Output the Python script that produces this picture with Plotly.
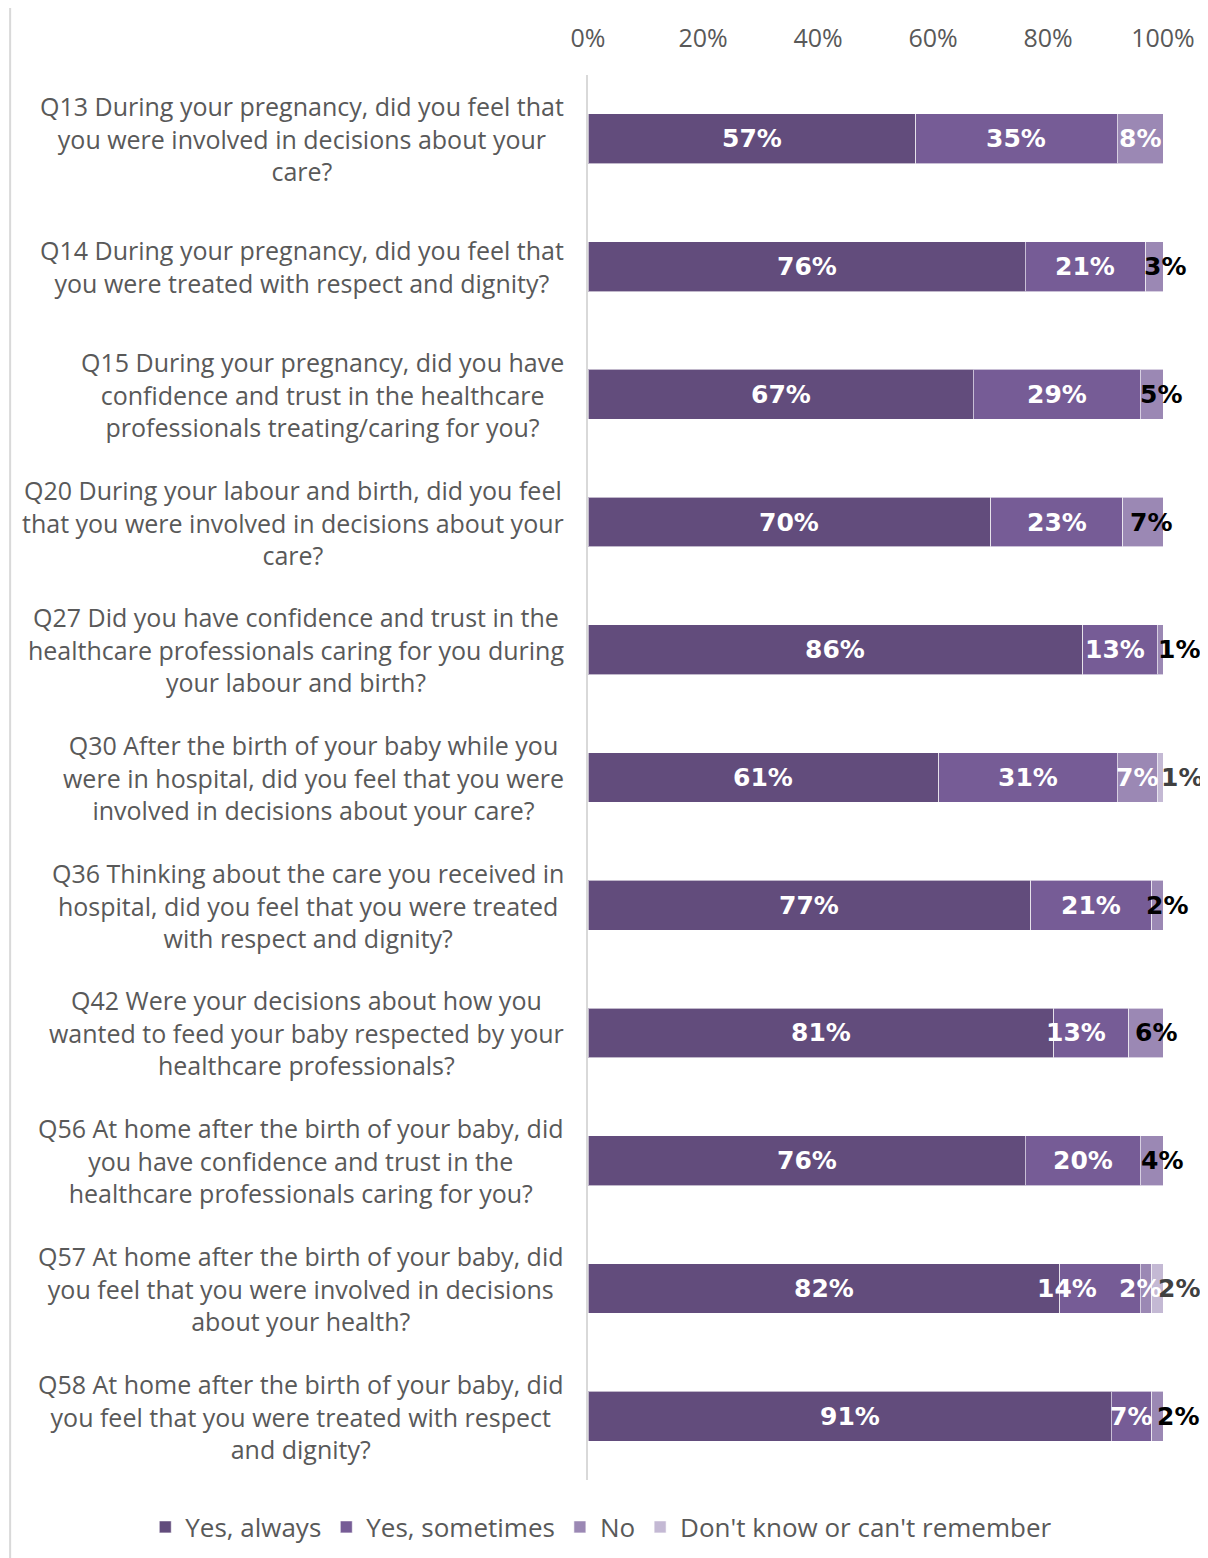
import plotly.graph_objects as go

questions = ['Q13', 'Q14', 'Q15', 'Q20', 'Q27', 'Q30', 'Q36', 'Q42', 'Q56', 'Q57', 'Q58']
labels = [
    'Q13 During your pregnancy, did you feel that<br>you were involved in decisions about your<br>care?',
    'Q14 During your pregnancy, did you feel that<br>you were treated with respect and dignity?',
    'Q15 During your pregnancy, did you have<br>confidence and trust in the healthcare<br>professionals treating/caring for you?',
    'Q20 During your labour and birth, did you feel<br>that you were involved in decisions about your<br>care?',
    'Q27 Did you have confidence and trust in the<br>healthcare professionals caring for you during<br>your labour and birth?',
    'Q30 After the birth of your baby while you<br>were in hospital, did you feel that you were<br>involved in decisions about your care?',
    'Q36 Thinking about the care you received in<br>hospital, did you feel that you were treated<br>with respect and dignity?',
    'Q42 Were your decisions about how you<br>wanted to feed your baby respected by your<br>healthcare professionals?',
    'Q56 At home after the birth of your baby, did<br>you have confidence and trust in the<br>healthcare professionals caring for you?',
    'Q57 At home after the birth of your baby, did<br>you feel that you were involved in decisions<br>about your health?',
    'Q58 At home after the birth of your baby, did<br>you feel that you were treated with respect<br>and dignity?',
]

yes_always = [57, 76, 67, 70, 86, 61, 77, 81, 76, 82, 91]
yes_sometimes = [35, 21, 29, 23, 13, 31, 21, 13, 20, 14, 7]
no = [8, 3, 5, 7, 1, 7, 2, 6, 4, 2, 2]
dont_know = [0, 0, 0, 0, 0, 1, 0, 0, 0, 2, 0]

series = [
    ('Yes, always', yes_always, '#624c7c'),
    ('Yes, sometimes', yes_sometimes, '#765c96'),
    ('No', no, '#9b88b4'),
    ("Don't know or can't remember", dont_know, '#c4b9d4'),
]

# manual label tweaks (pixels) and colours, as in the original chart
nudge = {
    ('Q14', 'No'): 11, ('Q15', 'No'): 7, ('Q20', 'No'): 8, ('Q27', 'No'): 19,
    ('Q36', 'No'): 10, ('Q42', 'No'): 10, ('Q56', 'No'): 10, ('Q58', 'No'): 21,
    ('Q30', "Don't know or can't remember"): 22, ('Q57', "Don't know or can't remember"): 22,
    ('Q57', 'No'): -6, ('Q57', 'Yes, sometimes'): -33, ('Q42', 'Yes, sometimes'): -15,
    ('Q27', 'Yes, sometimes'): -5,
}
white_no = {'Q13', 'Q30', 'Q57'}
text_font = 'Open Sans'

fig = go.Figure()
for name, vals, color in series:
    fig.add_trace(go.Bar(
        y=questions, x=vals, name=name, orientation='h',
        marker=dict(color=color, line=dict(color='rgba(255,255,255,0.6)', width=1)),
    ))

annotations = []
for i, q in enumerate(questions):
    start = 0
    for name, vals, color in series:
        v = vals[i]
        if v > 0:
            if name in ('Yes, always', 'Yes, sometimes'):
                fc = 'white'
            elif name == 'No':
                fc = 'white' if q in white_no else 'black'
            else:
                fc = '#404040'
            annotations.append(dict(
                x=start + v / 2, y=q, xref='x', yref='y', text=f'{v}%',
                showarrow=False, xshift=nudge.get((q, name), 0),
                font=dict(family='DejaVu Sans', size=25, color=fc, weight='bold'),
            ))
        start += v

    annotations.append(dict(
        x=0, y=q, xref='paper', yref='y', text=labels[i], showarrow=False,
        xanchor='right', align='center', xshift=-22,
        font=dict(family=text_font, size=25, color='#595959'),
    ))

fig.update_layout(
    barmode='stack',
    bargap=0.61,
    width=1208, height=1558,
    margin=dict(l=580, r=53, t=67, b=86),
    plot_bgcolor='white', paper_bgcolor='white',
    annotations=annotations,
    legend=dict(
        orientation='h', x=-0.77, xanchor='left',
        y=-(1519 - 1472) / 1405, yanchor='middle',
        font=dict(family=text_font, size=26, color='#595959'),
        itemwidth=30, traceorder='normal',
    ),
    shapes=[dict(
        type='rect', xref='paper', yref='paper',
        x0=-1.005, x1=1.2, y0=-0.1, y1=1.0484,
        line=dict(color='#d9d9d9', width=2),
    )],
)
fig.update_xaxes(
    side='top', range=[0, 100], tickvals=[0, 20, 40, 60, 80, 100],
    ticktext=['0%', '20%', '40%', '60%', '80%', '100%'],
    showgrid=False, zeroline=False, showline=False, ticks='',
    ticklabelstandoff=22,
    tickfont=dict(family=text_font, size=25, color='#595959'),
)
fig.update_yaxes(
    autorange='reversed', showticklabels=False, showgrid=False,
    showline=True, linecolor='#d9d9d9', linewidth=2, ticks='',
)

fig.write_html('out.html')
